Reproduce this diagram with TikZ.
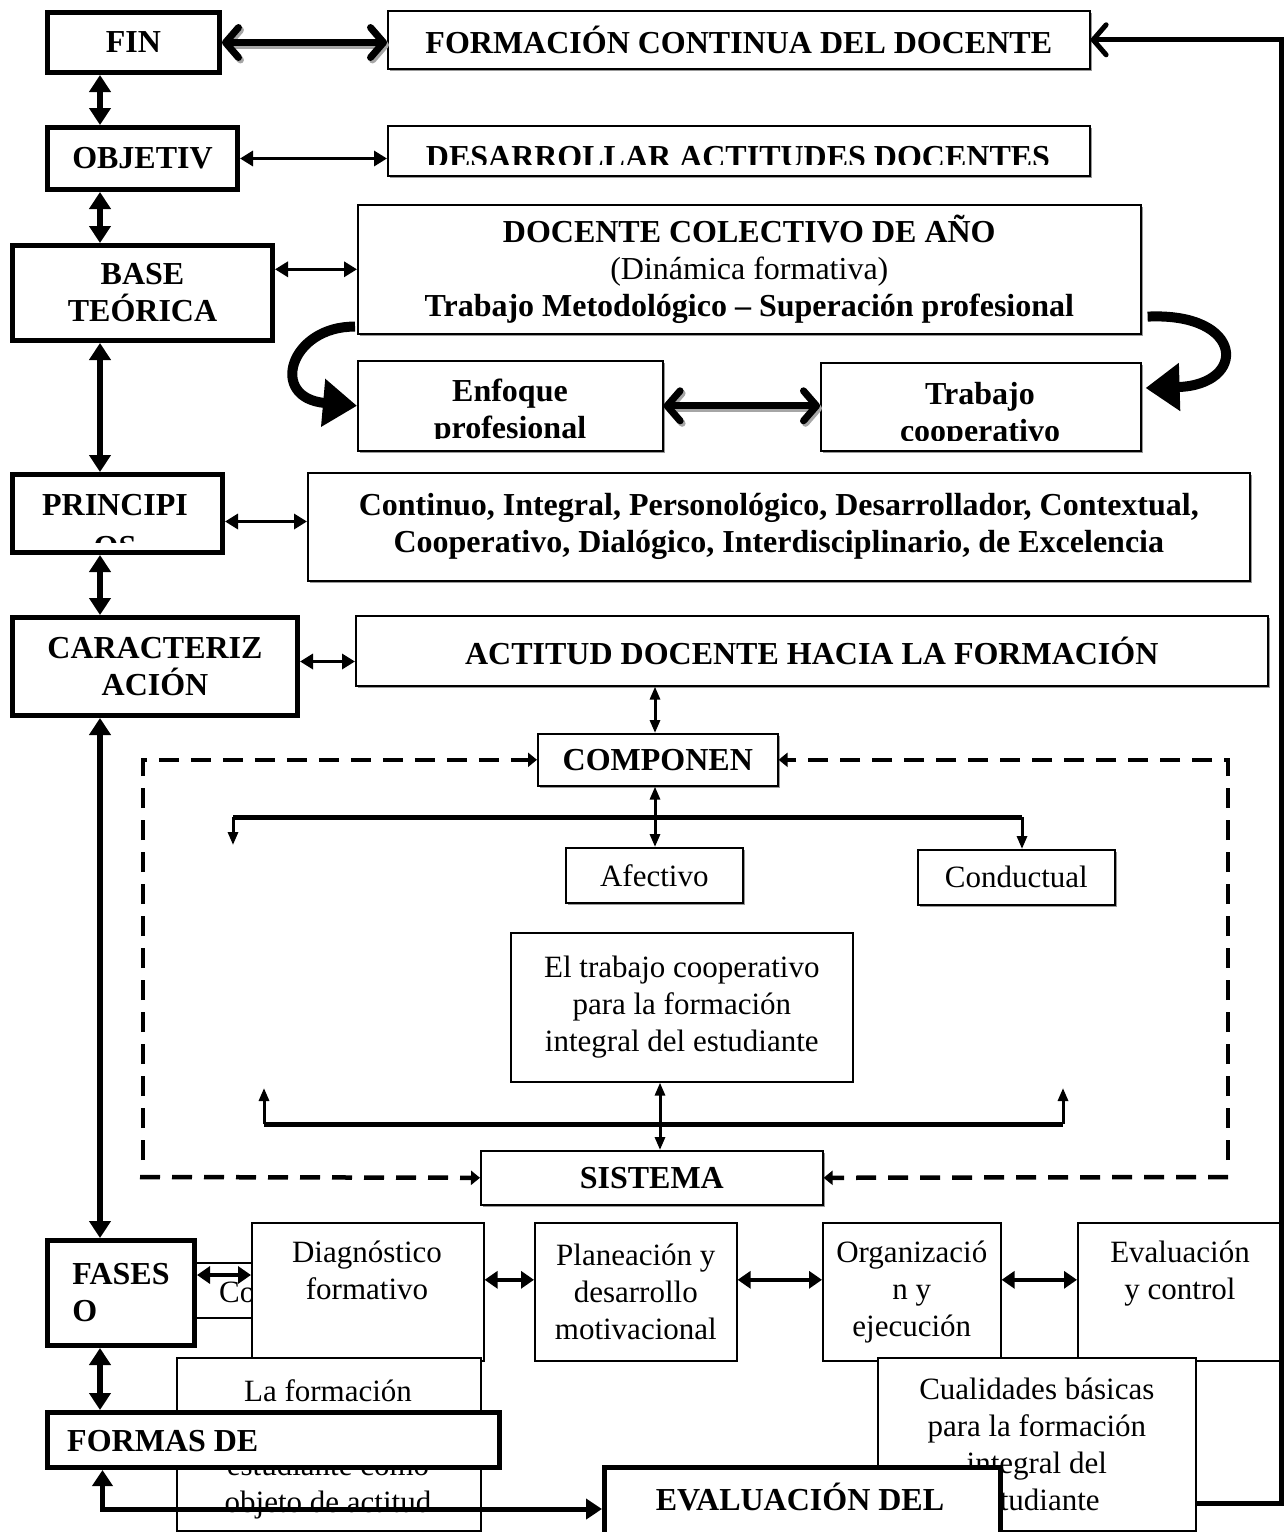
\documentclass[tikz,border=0pt]{standalone}
\usepackage{fontspec}
\setmainfont{Liberation Serif}
\usetikzlibrary{arrows.meta,shadows}
\begin{document}
\begin{tikzpicture}[x=1pt,y=-1pt,
  bx/.style args={#1/#2/#3/#4}{anchor=north west, at={(#1,#2)}, minimum width={#3-#1}, minimum height={#4-#2}},
  bf/.style={font=\fontsize{32}{37}\selectfont\bfseries},
  rm/.style={font=\fontsize{31}{37}\selectfont},
  lbox/.style={draw, line width=5pt, fill=white, inner sep=0pt, align=center, bf},
  tbox/.style={draw, line width=1.6pt, fill=white, inner sep=0pt, align=center},
  shd/.style={drop shadow={shadow xshift=2.5pt, shadow yshift=-2.5pt, fill=black!40, opacity=1}},
  txt/.style={inner sep=0pt, align=center},
  vdbl/.style={line width=6pt, {Triangle[length=17pt,width=21pt]}-{Triangle[length=17pt,width=21pt]}},
  hdbl/.style={line width=3.5pt, {Triangle[length=13pt,width=15pt]}-{Triangle[length=13pt,width=15pt]}},
  pdbl/.style={line width=4.5pt, {Triangle[length=13pt,width=17pt]}-{Triangle[length=13pt,width=17pt]}},
  chev/.style={line width=7pt, {Straight Barb[length=13pt,width=30pt,round]}-{Straight Barb[length=13pt,width=30pt,round]}},
  rlong/.style={line width=5pt, -{Straight Barb[length=13pt,width=30pt,round]}},
  blong/.style={line width=5pt, {Triangle[length=16pt,width=20pt]}-{Triangle[length=16pt,width=20pt]}},
  curv/.style={line width=10pt, -{Triangle[length=34pt,width=46pt]}},
  trh/.style={line width=5pt},
  trv/.style={line width=3pt, -{Triangle[length=13pt,width=10pt]}},
  trvd/.style={line width=3pt, {Triangle[length=13pt,width=10pt]}-{Triangle[length=13pt,width=10pt]}},
  dsh/.style={line width=4.5pt, dash pattern=on 20pt off 12pt, -{Triangle[length=9pt,width=14pt]}},
  gshadow/.style={black!35, transform canvas={xshift=2pt,yshift=-2.5pt}}
]
\useasboundingbox (0,0) rectangle (1285,1532);
\fill[white] (0,0) rectangle (1285,1532);
\clip (0,0) rectangle (1285,1532);

% ---------- left column ----------
\node[lbox, bx=45/10/217/70] (fin) {FIN};
\node[lbox, bx=45/125/235/187] (obj) {OBJETIV};
\node[lbox, bx=10/243/270/338] (bas) {BASE\\TEÓRICA};
\node[lbox, bx=10/472/220/550] (pri) {};
\begin{scope}
  \clip (12.5,474.5) rectangle (217.5,542);
  \node[bf, txt] (prit) at (115,526) {PRINCIPI\\[5pt]OS};
\end{scope}
\node[lbox, bx=10/615/295/713] (car) {CARACTERIZ\\ACIÓN};

% ---------- right column top ----------
\node[tbox, shd, bf, bx=387/10/1089/68] (fcd) {FORMACIÓN CONTINUA DEL DOCENTE};
\node[tbox, shd, bx=387/125/1089/175] (des) {};
\begin{scope}
  \clip (390,127) rectangle (1086,164);
  \node[bf, txt] (dest) at (738,157) {DESARROLLAR ACTITUDES DOCENTES};
\end{scope}
\node[tbox, shd, bx=357/204/1140/333, font=\fontsize{32}{37}\selectfont] (dc)
  {{\bfseries DOCENTE COLECTIVO DE AÑO}\\(Dinámica formativa)\\{\bfseries Trabajo Metodológico – Superación profesional}};
\node[tbox, shd, bx=357/360/662/450] (enf) {};
\begin{scope}
  \clip (359,362) rectangle (660,438);
  \node[bf, txt] (enft) at (510,412) {Enfoque\\profesional};
\end{scope}
\node[tbox, shd, bx=820/362/1140/450] (tc) {};
\begin{scope}
  \clip (822,364) rectangle (1138,440);
  \node[bf, txt] (tct) at (980,415) {Trabajo\\cooperativo};
\end{scope}
\node[tbox, shd, bf, bx=307/472/1249/580] (prc)
  {Continuo, Integral, Personológico, Desarrollador, Contextual,\\Cooperativo, Dialógico, Interdisciplinario, de Excelencia};
\node[tbox, shd, bf, bx=355/615/1267/685] (act) {ACTITUD DOCENTE HACIA LA FORMACIÓN};

% ---------- components block ----------
\node[tbox, shd, bf, bx=537/733/777/785] (comp) {COMPONEN};
\node[tbox, shd, rm, bx=565/847/742/902] (afe) {Afectivo};
\node[tbox, shd, rm, bx=917/849/1114/904] (con) {Conductual};
\node[tbox, rm, bx=510/932/852/1081] (etb) {El trabajo cooperativo\\para la formación\\integral del estudiante};
\node[tbox, shd, bf, bx=480/1150/822/1204] (sis) {SISTEMA};

% ---------- phases ----------
\node[tbox, bx=192/1262/300/1317] (cob) {};
\node[rm, txt, anchor=base west] (cot) at (219,1302) {Co};
\node[lbox, bx=45/1238/192/1343, align=left] (fas) {FASES\\O};
\node[tbox, bx=251/1222/483/1360] (dia) {};
\node[rm, txt, anchor=north] (diat) at (367,1241) {Diagnóstico\\formativo};
\node[tbox, rm, bx=534/1222/736/1360] (pla) {Planeación y\\desarrollo\\motivacional};
\node[tbox, rm, bx=822/1222/1000/1360] (org) {Organizació\\n y\\ejecución};
\node[tbox, bx=1077/1222/1282/1360] (evc) {};
\node[rm, txt, anchor=north] (evct) at (1180,1241) {Evaluación\\y control};

\node[tbox, bx=176/1357/480/1530] (laf) {};
\node[rm, txt] (laft) at (328,1449) {La formación\\[37pt]estudiante como\\objeto de actitud};
\node[tbox, rm, bx=877/1357/1195/1530] (cua) {Cualidades básicas\\para la formación\\integral del\\estudiante};

\node[lbox, bx=45/1410/497/1465] (for) {};
\node[bf, txt, anchor=west] (fort) at (67,1441) {FORMAS DE};
\node[lbox, bx=602/1465/998/1548] (eva) {};
\node[bf, txt] (evat) at (800,1497) {EVALUACIÓN DEL};

% ---------- connectors ----------
\coordinate (cx) at (100,0);
\draw[vdbl] (fin.south -| cx) -- (obj.north -| cx);
\draw[vdbl] (obj.south -| cx) -- (bas.north -| cx);
\draw[vdbl] (bas.south -| cx) -- (pri.north -| cx);
\draw[vdbl] (pri.south -| cx) -- (car.north -| cx);
\draw[vdbl] (car.south -| cx) -- (fas.north -| cx);
\draw[vdbl] (fas.south -| cx) -- (for.north -| cx);

\draw[chev, gshadow] (fin.east) -- (fin.east -| fcd.west);
\draw[chev] (fin.east) -- (fin.east -| fcd.west);
\draw[hdbl] (obj.east) -- (obj.east -| des.west);
\draw[hdbl] (dc.west -| bas.east) -- (dc.west);
\draw[hdbl] ([yshift=-8pt]pri.east) -- ([yshift=-8pt]pri.east -| prc.west);
\draw[hdbl] ([yshift=5pt]car.east) -- ([yshift=5pt]car.east -| act.west);

\draw[chev, gshadow] (enf.east) -- (enf.east -| tc.west);
\draw[chev] (enf.east) -- (enf.east -| tc.west);

\draw[curv] ([xshift=-2pt,yshift=8pt]dc.south west) .. controls (290,326) and (268,398) .. (enf.west);
\draw[curv] ([xshift=6pt,yshift=18pt]dc.south east) .. controls (1245,312) and (1248,385) .. ([xshift=4pt,yshift=-26pt]tc.north east);

% components tree
\coordinate (mx) at (655,0);
\draw[trvd] (act.south -| mx) -- (comp.north -| mx);
\coordinate (tl) at (233,817);
\coordinate (tr) at (1022,817);
\coordinate (tlb) at (233,845);
\draw[trh] (tl) -- (tr);
\draw[trv] (tl) -- (tlb);
\draw[trv] (tr) -- (tr |- con.north);
\draw[trvd] (comp.south -| mx) -- (afe.north -| mx);

\coordinate (bl) at (264,1124);
\coordinate (br) at (1063,1124);
\coordinate (blt) at (264,1088);
\coordinate (brt) at (1063,1088);
\coordinate (sx) at (660,0);
\draw[trh] (bl) -- (br);
\draw[trv] (bl) -- (blt);
\draw[trv] (br) -- (brt);
\draw[trvd] (etb.south -| sx) -- (sis.north -| sx);

% dashed frame
\coordinate (dl) at (143,1160);
\coordinate (dr) at (1228,1160);
\coordinate (dlb) at (140,1177);
\coordinate (drb) at (1228,1177);
\draw[dsh] (dl) |- (comp.west);
\draw[dsh] (dr) |- (comp.east);
\draw[dsh] (dlb) -- (sis.west);
\draw[dsh] (drb) -- (sis.east);

% phases
\draw[pdbl] ([yshift=18pt]fas.east) -- ([yshift=18pt]fas.east -| dia.west);
\draw[pdbl] ([yshift=12pt]dia.east) -- ([yshift=12pt]pla.west);
\draw[pdbl] ([yshift=12pt]pla.east) -- ([yshift=12pt]org.west);
\draw[pdbl] ([yshift=12pt]org.east) -- ([yshift=12pt]evc.west);

% long return lines
\draw[blong] (eva.west) -| ([xshift=-171pt]for.south);
\coordinate (cr) at (1195,1503);
\coordinate (rc) at (1281,1503);
\draw[rlong] (cr) -- (rc) |- (fcd.east);
\end{tikzpicture}
\end{document}
